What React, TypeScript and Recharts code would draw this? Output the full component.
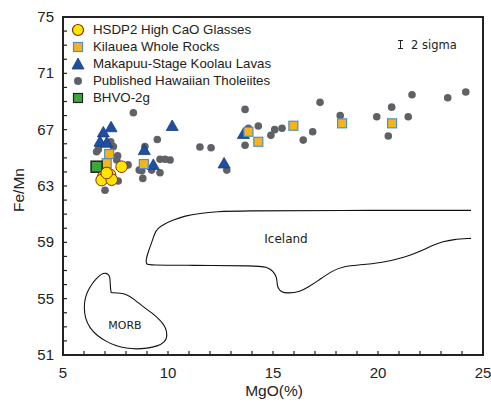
import React from 'react';
import { ScatterChart, Scatter, XAxis, YAxis, Legend, Customized } from 'recharts';

// MgO (%) vs Fe/Mn
const HSDP2_GLASSES: [number, number][] = [
  [7.79, 64.37], [7.24, 63.8], [6.92, 63.66], [6.84, 63.42], [7.32, 63.45], [7.08, 63.92],
];

const KILAUEA_ROCKS: [number, number][] = [
  [7.2, 65.27], [7.08, 64.62], [8.85, 64.56], [13.83, 66.85], [14.3, 66.14],
  [15.97, 67.28], [18.29, 67.45], [20.67, 67.45],
];

const KOOLAU_LAVAS: [number, number][] = [
  [7.29, 67.17], [6.92, 66.8], [6.76, 66.14], [7.08, 66.07], [10.2, 67.26],
  [8.87, 65.55], [9.3, 64.5], [12.67, 64.6], [13.59, 66.69],
];

const HAWAIIAN_THOLEIITES: [number, number][] = [
  [8.35, 68.2], [7.27, 66.14], [7.4, 65.8], [6.68, 65.6], [9.49, 66.3], [8.9, 65.8],
  [11.52, 65.77], [12.05, 65.72], [9.62, 64.9], [9.86, 64.9], [10.1, 64.85], [7.6, 65.15],
  [7.56, 64.85], [8.1, 64.5], [8.63, 64.13], [9.22, 64.13], [9.62, 63.94], [8.8, 63.54],
  [7.63, 63.35], [7.0, 62.7], [6.6, 65.43], [8.75, 64.08], [12.8, 64.13], [13.67, 68.44],
  [13.83, 67.1], [14.3, 67.26], [13.67, 65.89], [14.9, 66.6], [15.08, 67.0], [15.43, 67.1],
  [16.44, 66.26], [16.89, 66.85], [17.24, 68.94], [18.2, 68.0], [19.94, 67.92], [20.65, 68.6],
  [20.49, 66.55], [21.44, 67.92], [21.62, 69.48], [23.32, 69.27], [24.18, 69.67],
];

const BHVO_2G: [number, number][] = [[6.6, 64.37]];

// field outlines (traced); repeated points keep the corners sharp
const ICELAND_FIELD: [number, number][] = [
  [24.43, 61.27], [18.0, 61.27], [13.43, 61.24], [12.3, 61.18], [11.52, 61.06], [10.8, 60.88],
  [10.24, 60.58], [9.8, 60.28], [9.52, 60.01], [9.35, 59.6], [9.24, 59.04], [9.05, 58.3],
  [8.95, 57.74], [8.96, 57.45], [9.1, 57.38], [11.0, 57.37], [14.22, 57.34], [14.7, 57.25],
  [14.94, 57.03], [15.1, 56.75], [15.18, 56.44], [15.2, 56.0], [15.24, 55.75], [15.4, 55.45],
  [15.71, 55.38], [16.29, 55.49], [16.7, 55.85], [17.08, 56.2], [17.86, 57.03], [18.4, 57.3],
  [18.99, 57.39], [20.1, 57.51], [21.37, 57.98], [22.0, 58.35], [22.62, 58.81], [23.1, 59.05],
  [23.57, 59.21], [24.43, 59.28],
];

const MORB_FIELD: [number, number][] = [
  [7.3, 55.42], [7.3, 55.42], [7.3, 55.42], [7.6, 55.4], [7.95, 55.38], [8.4, 54.95],
  [8.82, 54.42], [9.25, 53.98], [9.62, 53.48], [9.85, 53.05], [9.94, 52.65], [9.95, 52.25],
  [9.86, 51.94], [9.5, 51.62], [8.99, 51.47], [8.5, 51.42], [8.03, 51.47], [7.5, 51.65],
  [7.08, 51.94], [6.6, 52.4], [6.29, 52.89], [6.05, 53.6], [6.0, 54.42], [6.05, 55.05],
  [6.2, 55.61], [6.38, 56.05], [6.6, 56.44], [6.78, 56.7], [6.92, 56.8], [7.05, 56.82],
  [7.18, 56.7], [7.24, 56.5], [7.25, 56.0], [7.27, 55.6], [7.3, 55.42], [7.3, 55.42],
  [7.3, 55.42],
];

const X_TICKS = [5, 6, 7, 8, 9, 10, 11, 12, 13, 14, 15, 16, 17, 18, 19, 20, 21, 22, 23, 24, 25];
const Y_TICKS = [51, 52, 53, 54, 55, 56, 57, 58, 59, 60, 61, 62, 63, 64, 65, 66, 67, 68, 69, 70, 71, 72, 73, 74, 75];
const X_LABELS = [5, 10, 15, 20, 25];
const Y_LABELS = [51, 55, 59, 63, 67, 71, 75];

const toPoints = (arr: [number, number][]) => arr.map(([x, y]) => ({ x, y }));

const YELLOW = '#FFE600';
const ORANGE = '#F6B41C';
const BLUE = '#1F4FA0';
const GRAY = '#5E6267';
const GREEN = '#3CA83C';
const INK = '#222';

const YellowDot = ({ cx, cy }: any) => (
  <circle cx={cx} cy={cy} r={5.8} fill={YELLOW} stroke="#8A2A00" strokeWidth={1} />
);
const OrangeSquare = ({ cx, cy }: any) => (
  <rect x={cx - 4.5} y={cy - 4.5} width={9} height={9} fill={ORANGE} stroke="#4F8FC8" strokeWidth={1.2} />
);
const BlueTriangle = ({ cx, cy }: any) => (
  <path d={`M${cx},${cy - 6} L${cx + 6},${cy + 4.5} L${cx - 6},${cy + 4.5} Z`} fill={BLUE} stroke="#1A3C7C" strokeWidth={0.8} />
);
const GrayDot = ({ cx, cy }: any) => <circle cx={cx} cy={cy} r={3.8} fill={GRAY} />;
const GreenSquare = ({ cx, cy }: any) => (
  <rect x={cx - 5.5} y={cy - 5.5} width={11} height={11} fill={GREEN} stroke="#222" strokeWidth={1.5} />
);
const NoShape = () => <g />;

const BottomTick = ({ x, y, payload }: any) => (
  <g>
    <line x1={x} x2={x} y1={y} y2={y - 4} stroke={INK} strokeWidth={1.2} />
    {X_LABELS.includes(payload.value) && (
      <text x={x} y={y + 23} textAnchor="middle" fontSize={15} fill={INK}>{payload.value}</text>
    )}
  </g>
);

const LeftTick = ({ x, y, payload }: any) => (
  <g>
    <line x1={x} x2={x + 4} y1={y} y2={y} stroke={INK} strokeWidth={1.2} />
    {Y_LABELS.includes(payload.value) && (
      <text x={x - 9} y={y + 5} textAnchor="end" fontSize={15} fill={INK}>{payload.value}</text>
    )}
  </g>
);

const RightTick = ({ x, y }: any) => (
  <line x1={x} x2={x - 4} y1={y} y2={y} stroke={INK} strokeWidth={1.2} />
);

const LEGEND_ITEMS = [
  { name: 'HSDP2 High CaO Glasses', marker: <circle cx={8} cy={8} r={5.5} fill={YELLOW} stroke="#8A2A00" strokeWidth={1.2} /> },
  { name: 'Kilauea Whole Rocks', marker: <rect x={3.5} y={3.5} width={9} height={9} fill={ORANGE} stroke="#4F8FC8" strokeWidth={1.2} /> },
  { name: 'Makapuu-Stage Koolau Lavas', marker: <path d="M8,2 L14,13 L2,13 Z" fill={BLUE} stroke="#1A3C7C" strokeWidth={0.8} /> },
  { name: 'Published Hawaiian Tholeiites', marker: <circle cx={8} cy={8} r={4} fill={GRAY} /> },
  { name: 'BHVO-2g', marker: <rect x={3.5} y={3.5} width={9} height={9} fill={GREEN} stroke="#222" strokeWidth={1.2} /> },
];

const renderLegend = () => (
  <div style={{ fontSize: 13.3, color: INK, lineHeight: '17px' }}>
    {LEGEND_ITEMS.map((item) => (
      <div key={item.name} style={{ display: 'flex', alignItems: 'center', height: 17 }}>
        <svg width={16} height={16} style={{ marginRight: 7 }}>{item.marker}</svg>
        <span>{item.name}</span>
      </div>
    ))}
  </div>
);

// 2-sigma bar and field names
const Annotations = () => (
  <g>
    <line x1={400.5} x2={400.5} y1={40.5} y2={48.5} stroke={INK} strokeWidth={1} />
    <line x1={398} x2={403} y1={40.5} y2={40.5} stroke={INK} strokeWidth={1} />
    <line x1={398} x2={403} y1={48.5} y2={48.5} stroke={INK} strokeWidth={1} />
    <text x={411} y={48.5} fontSize={11.5} fill={INK} fontFamily="DejaVu Sans">2 sigma</text>
    <text x={286} y={243} textAnchor="middle" fontSize={12} fill={INK} fontFamily="DejaVu Sans">Iceland</text>
    <text x={125} y={329} textAnchor="middle" fontSize={11} fill={INK} fontFamily="DejaVu Sans">MORB</text>
  </g>
);

const App: React.FC = () => (
  <div style={{ position: 'absolute', left: 0, top: 0, width: 491, height: 403, background: '#fff', fontFamily: '"Liberation Sans", Arial, sans-serif' }}>
    <ScatterChart width={491} height={403} margin={{ top: 17, right: 8, bottom: 18, left: 0 }}>
      <XAxis
        type="number"
        dataKey="x"
        domain={[5, 25]}
        ticks={X_TICKS}
        interval={0}
        allowDataOverflow
        height={30}
        tickSize={0}
        tickMargin={0}
        tickLine={false}
        axisLine={false}
        tick={<BottomTick />}
        label={{
          content: () => (
            <text x={274} y={396} textAnchor="middle" fontSize={15.5} fill={INK}>MgO(%)</text>
          ),
        }}
      />
      <YAxis
        type="number"
        dataKey="y"
        domain={[51, 75]}
        ticks={Y_TICKS}
        interval={0}
        allowDataOverflow
        width={63}
        tickSize={0}
        tickMargin={0}
        tickLine={false}
        axisLine={false}
        tick={<LeftTick />}
        label={{
          content: () => (
            <text x={24} y={190} transform="rotate(-90 24 190)" textAnchor="middle" fontSize={15.5} fill={INK}>Fe/Mn</text>
          ),
        }}
      />
      <YAxis
        yAxisId="r"
        orientation="right"
        type="number"
        dataKey="y"
        domain={[51, 75]}
        ticks={Y_TICKS}
        interval={0}
        allowDataOverflow
        width={0}
        tickSize={0}
        tickMargin={0}
        tickLine={false}
        axisLine={false}
        tick={<RightTick />}
      />
      <Scatter data={toPoints(ICELAND_FIELD)} yAxisId="r" line={{ stroke: '#111', strokeWidth: 1.1 }} lineJointType="basis" shape={<NoShape />} legendType="none" isAnimationActive={false} />
      <Scatter data={toPoints(MORB_FIELD)} yAxisId="r" line={{ stroke: '#111', strokeWidth: 1.1 }} lineJointType="basis" shape={<NoShape />} legendType="none" isAnimationActive={false} />
      <Scatter name="Published Hawaiian Tholeiites" data={toPoints(HAWAIIAN_THOLEIITES)} shape={<GrayDot />} isAnimationActive={false} />
      <Scatter name="Makapuu-Stage Koolau Lavas" data={toPoints(KOOLAU_LAVAS)} shape={<BlueTriangle />} isAnimationActive={false} />
      <Scatter name="Kilauea Whole Rocks" data={toPoints(KILAUEA_ROCKS)} shape={<OrangeSquare />} isAnimationActive={false} />
      <Scatter name="BHVO-2g" data={toPoints(BHVO_2G)} shape={<GreenSquare />} isAnimationActive={false} />
      <Scatter name="HSDP2 High CaO Glasses" data={toPoints(HSDP2_GLASSES)} shape={<YellowDot />} isAnimationActive={false} />
      <Customized component={<Annotations />} />
      <Legend
        layout="vertical"
        align="center"
        verticalAlign="middle"
        wrapperStyle={{ left: 70, top: 21, width: 260 }}
        content={renderLegend}
      />
    </ScatterChart>
    {/* plot frame */}
    <div
      style={{
        position: 'absolute',
        left: 62,
        top: 16,
        width: 418,
        height: 336,
        border: `2px solid ${INK}`,
        pointerEvents: 'none',
      }}
    />
  </div>
);

export default App;
